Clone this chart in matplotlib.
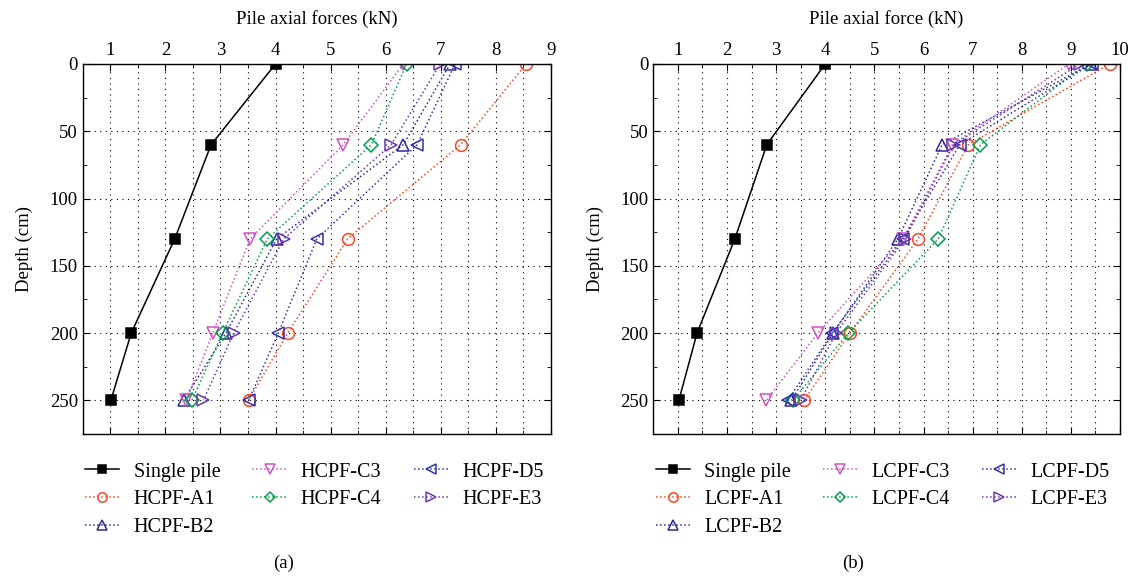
import numpy as np
import matplotlib
matplotlib.use('Agg')
import matplotlib.pyplot as plt
from matplotlib.ticker import MultipleLocator

plt.rcParams['font.family'] = ['Liberation Serif', 'DejaVu Serif']
plt.rcParams['mathtext.fontset'] = 'stix'

depth = [0, 60, 130, 200, 250]

# panel (a): HCPF groups
single_a = [4.00, 2.83, 2.17, 1.38, 1.01]
hcpf_a1 = [8.55, 7.36, 5.31, 4.22, 3.51]
hcpf_b2 = [7.17, 6.32, 4.02, 3.10, 2.33]
hcpf_c3 = [6.32, 5.23, 3.54, 2.86, 2.38]
hcpf_c4 = [6.38, 5.74, 3.85, 3.04, 2.48]
hcpf_d5 = [7.26, 6.57, 4.75, 4.05, 3.51]
hcpf_e3 = [6.99, 6.10, 4.15, 3.24, 2.69]

# panel (b): LCPF groups
single_b = [4.00, 2.81, 2.16, 1.39, 1.02]
lcpf_a1 = [9.79, 6.91, 5.89, 4.50, 3.57]
lcpf_b2 = [9.40, 6.38, 5.48, 4.16, 3.31]
lcpf_c3 = [8.96, 6.59, 5.58, 3.85, 2.80]
lcpf_c4 = [9.32, 7.16, 6.30, 4.47, 3.34]
lcpf_d5 = [9.42, 6.74, 5.58, 4.14, 3.24]
lcpf_e3 = [9.18, 6.61, 5.62, 4.22, 3.50]

labels_a = ['Single pile', 'HCPF-A1', 'HCPF-B2', 'HCPF-C3', 'HCPF-C4', 'HCPF-D5', 'HCPF-E3']
labels_b = ['Single pile', 'LCPF-A1', 'LCPF-B2', 'LCPF-C3', 'LCPF-C4', 'LCPF-D5', 'LCPF-E3']

styles = [
    dict(color='black', marker='s', ls='-', ms=6.5, mfc='black'),
    dict(color='#ff4422', marker='o', ls=':', ms=8.5, mfc='none'),
    dict(color='#2a2a99', marker='^', ls=':', ms=9, mfc='none'),
    dict(color='#cc55bb', marker='v', ls=':', ms=9, mfc='none'),
    dict(color='#00a04a', marker='D', ls=':', ms=7, mfc='none'),
    dict(color='#3333aa', marker='<', ls=':', ms=9, mfc='none'),
    dict(color='#6a35b0', marker='>', ls=':', ms=9, mfc='none'),
]

fig = plt.figure(figsize=(11.35, 5.8), dpi=100)
ax1 = fig.add_axes([0.0729, 0.2517, 0.4125, 0.638])
ax2 = fig.add_axes([0.5756, 0.2517, 0.4112, 0.638])


def draw(ax, series, labels, xmax, xlabel, tag):
    for vals, lab, st in zip(series, labels, styles):
        ax.plot(vals, depth, label=lab, lw=1.1, mew=1.1, **st)
    ax.set_xlim(0.5, xmax)
    ax.set_ylim(275, 0)
    ax.xaxis.set_major_locator(MultipleLocator(1))
    ax.xaxis.set_minor_locator(MultipleLocator(0.5))
    ax.yaxis.set_major_locator(MultipleLocator(50))
    ax.yaxis.set_minor_locator(MultipleLocator(25))
    ax.xaxis.tick_top()
    ax.xaxis.set_label_position('top')
    ax.tick_params(which='both', direction='in', top=True, bottom=True,
                   left=True, right=True, labelsize=13.5)
    ax.tick_params(which='major', length=5)
    ax.tick_params(which='minor', length=3)
    ax.grid(True, which='major', axis='both', ls=(0, (1, 4)), color='black', lw=0.8)
    ax.grid(True, which='minor', axis='x', ls=(0, (1, 4)), color='black', lw=0.8)
    ax.set_xlabel(xlabel, fontsize=13.5, labelpad=13)
    ax.set_ylabel('Depth (cm)', fontsize=13.5, labelpad=12)
    for s in ax.spines.values():
        s.set_linewidth(1.0)
    ax.legend(loc='upper left', bbox_to_anchor=(-0.012, -0.055), ncol=3,
              frameon=False, fontsize=14.5, handlelength=1.7, markerscale=0.8,
              labelspacing=0.42, columnspacing=1.6, handletextpad=0.7,
              borderaxespad=0)
    ax.text(0.428, -0.35, tag, transform=ax.transAxes, ha='center', va='center',
            fontsize=13.5)


draw(ax1, [single_a, hcpf_a1, hcpf_b2, hcpf_c3, hcpf_c4, hcpf_d5, hcpf_e3],
     labels_a, 9, 'Pile axial forces (kN)', '(a)')
draw(ax2, [single_b, lcpf_a1, lcpf_b2, lcpf_c3, lcpf_c4, lcpf_d5, lcpf_e3],
     labels_b, 10, 'Pile axial force (kN)', '(b)')

fig.savefig('out.png', dpi=100)
